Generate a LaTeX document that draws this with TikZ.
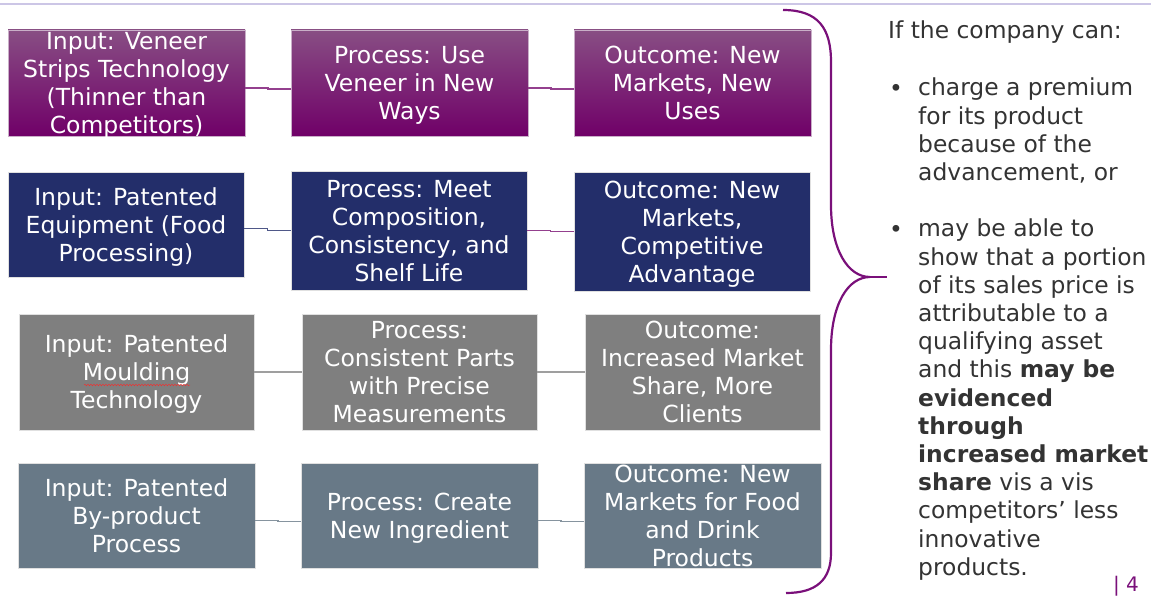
\documentclass[tikz,border=0pt]{standalone}
\usepackage{fontspec}
\setmainfont{DejaVu Sans}
\usetikzlibrary{calc}
\usetikzlibrary{decorations.pathmorphing}
\definecolor{mpurple}{RGB}{112, 0, 104}
\definecolor{mmauve}{RGB}{136, 78, 132}
\definecolor{mnavy}{RGB}{35, 46, 106}
\definecolor{mgray}{RGB}{127, 127, 127}
\definecolor{mslate}{RGB}{104, 121, 135}
\definecolor{mline}{RGB}{204, 198, 230}
\definecolor{mbrace}{RGB}{122, 16, 122}
\definecolor{mtext}{RGB}{51, 51, 51}
\tikzset{box/.style = {draw = black!12, line width = 0.8, inner sep = 0, align = center,
                       text depth = 0, text = white, font = \fontsize{23.5}{28}\selectfont}}
\tikzset{vbox/.style = {box, draw = mmauve!45, top color = mmauve, middle color = mpurple,
                        bottom color = mpurple, minimum width = 237, minimum height = 106}}
\tikzset{link/.style = {line width = 1.1}}
\tikzset{elbow/.style = {to path = {-| ($(\tikztostart)!0.5!(\tikztotarget)$) |- (\tikztotarget)}}}
\tikzset{note/.style = {inner sep = 0, align = left, text = mtext,
                        font = \fontsize{23.4}{28.2}\selectfont}}

\begin{document}
\begin{tikzpicture}[x = 1pt, y = -1pt]
    \useasboundingbox (0, 0) rectangle (1160, 596);

    \draw [mline, line width = 1.5] (0, 4) -- (1151, 4);

    % row 1
    \node [vbox, inner ysep = -4] (in1) at (126.5, 83)
          {Input: Veneer\\Strips Technology\\(Thinner than\\Competitors)};
    \node [vbox] (pr1) at (409.5, 83) {Process: Use\\Veneer in New\\Ways};
    \node [vbox] (out1) at (692.5, 83) {Outcome: New\\Markets, New\\Uses};

    % row 2
    \node [box, fill = mnavy, minimum width = 236, minimum height = 105] (in2) at (126, 224.5)
          {Input: Patented\\Equipment (Food\\Processing)};
    \node [box, fill = mnavy, minimum width = 236, minimum height = 119] (pr2) at (409, 230.5)
          {Process: Meet\\Composition,\\Consistency, and\\Shelf Life};
    \node [box, fill = mnavy, minimum width = 236, minimum height = 119] (out2) at (692, 231.5)
          {Outcome: New\\Markets,\\Competitive\\Advantage};

    % row 3
    \node [box, fill = mgray, minimum width = 235, minimum height = 116] (in3) at (136.5, 372)
          {Input: Patented\\Moulding\\Technology};
    \node [box, fill = mgray, minimum width = 235, minimum height = 116] (pr3) at (419.5, 372)
          {Process:\\Consistent Parts\\with Precise\\Measurements};
    \node [box, fill = mgray, minimum width = 235, minimum height = 116] (out3) at (702.5, 372)
          {Outcome:\\Increased Market\\Share, More\\Clients};
    \draw [red!85, decorate, decoration = {snake, amplitude = 0.8, segment length = 3}]
          (84, 385) -- (190, 385);

    % row 4
    \node [box, fill = mslate, minimum width = 237, minimum height = 105] (in4) at (136.5, 515.5)
          {Input: Patented\\By-product\\Process};
    \node [box, fill = mslate, minimum width = 237, minimum height = 105] (pr4) at (419.5, 515.5)
          {Process: Create\\New Ingredient};
    \node [box, fill = mslate, minimum width = 237, minimum height = 105, inner ysep = -4] (out4) at (702.5, 515.5)
          {Outcome: New\\Markets for Food\\and Drink\\Products};

    \draw [link, mpurple!75] ([yshift = -5]in1.east) to [elbow] ([yshift = -6]pr1.west);
    \draw [link, mpurple!75] ([yshift = -5]pr1.east) to [elbow] ([yshift = -6]out1.west);
    \draw [link, mnavy!80] ([yshift = -4]in2.east) to [elbow] (pr2.west);
    \draw [link, mpurple!75] (pr2.east) to [elbow] (out2.west);
    \draw [link, mgray!75] (in3.east) to [elbow] (pr3.west);
    \draw [link, mgray!75] (pr3.east) to [elbow] (out3.west);
    \draw [link, mslate!80] ([yshift = -5]in4.east) to [elbow] ([yshift = -6]pr4.west);
    \draw [link, mslate!80] ([yshift = -5]pr4.east) to [elbow] ([yshift = -6]out4.west);

    % brace
    \draw [mbrace, line width = 2.2]
          (783, 10) .. controls (818, 10) and (831, 28) .. (831, 62) -- (831, 205)
          .. controls (831, 250) and (848, 277) .. (870, 277)
          .. controls (848, 277) and (831, 304) .. (831, 350) -- (831, 553)
          .. controls (831, 580) and (816, 593) .. (786, 593);
    \coordinate (tip) at (870, 277);
    \draw [mbrace, line width = 2.2] (tip) -- ++(17, 0);

    % notes
    \node [note, anchor = north west] (head) at (888, 21) {If the company can:};
    \node [note] (dot1) at (896, 90) {\textbullet};
    \node [note, anchor = north west] (item1) at (918, 78)
          {charge a premium\\for its product\\because of the\\advancement, or};
    \node [note] (dot2) at (896, 231) {\textbullet};
    \node [note, anchor = north west] (item2) at (918, 219)
          {may be able to\\show that a portion\\of its sales price is\\attributable to a\\qualifying asset\\
           and this \textbf{may be}\\\textbf{evidenced}\\\textbf{through}\\\textbf{increased market}\\
           \textbf{share} vis a vis\\competitors’ less\\innovative\\products.};

    \node [text = mbrace, inner sep = 0, font = \fontsize{20}{24}\selectfont] (page) at (1126, 586) {| 4};
\end{tikzpicture}
\end{document}
